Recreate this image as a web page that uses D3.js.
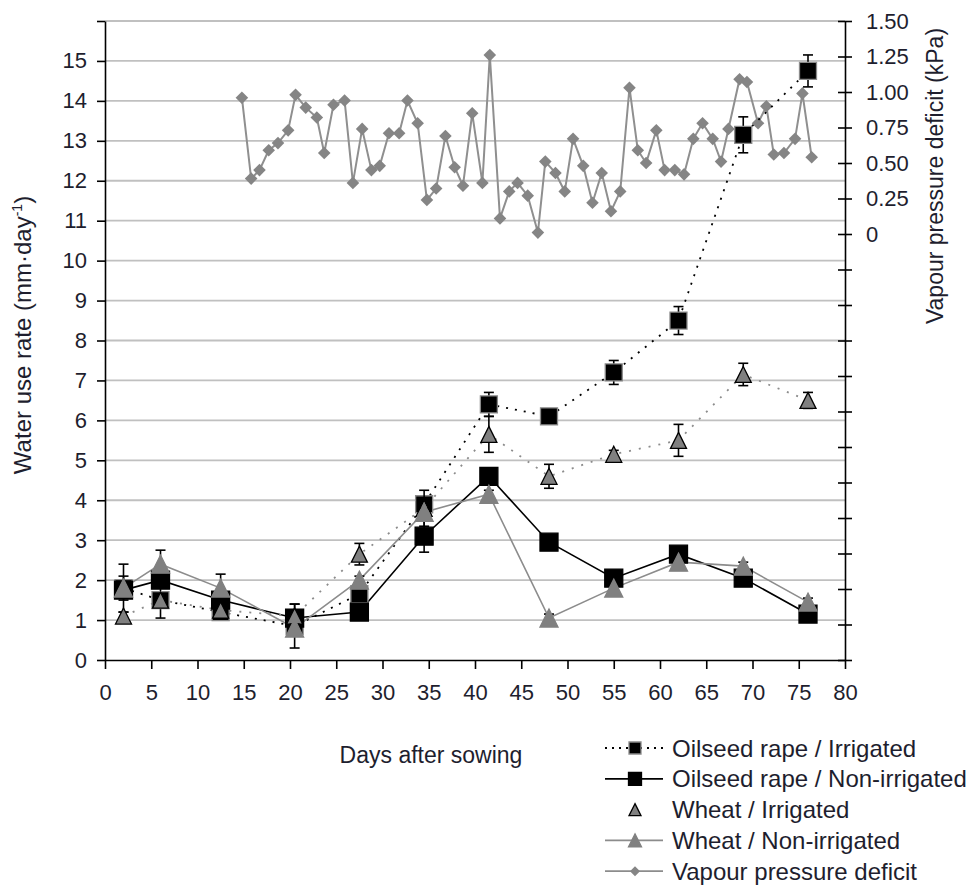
<!DOCTYPE html>
<html>
<head>
<meta charset="utf-8">
<script src="https://cdn.jsdelivr.net/npm/d3@7"></script>
<style>
  body { margin: 0; background: #fff; }
  text { font-family: "Liberation Sans", Arial, sans-serif; fill: #1e1e2e; }
</style>
</head>
<body>
<svg id="chart" width="972" height="888"></svg>
<script>
// sampling days (days after sowing) for the crop water use measurements
var days = [2, 6, 12.5, 20.5, 27.5, 34.5, 41.5, 48, 55, 62, 69, 76];

// water use rate (mm/day) and error bar half-widths
var osrIrr     = [1.8, 1.5, 1.2, 0.85, 1.65, 3.9, 6.4, 6.1, 7.2, 8.5, 13.15, 14.75];
var osrIrrErr  = [0.6, 0.45, 0.15, 0.55, 0.15, 0.2, 0.3, 0.1, 0.3, 0.35, 0.45, 0.4];
var osrNon     = [1.75, 2.0, 1.5, 1.05, 1.2, 3.1, 4.6, 2.95, 2.05, 2.65, 2.05, 1.15];
var osrNonErr  = [0.1, 0.1, 0.1, 0.1, 0.1, 0.4, 0.1, 0.1, 0.1, 0.1, 0.1, 0.1];
var wheatIrr    = [1.1, 1.5, 1.25, 1.1, 2.65, 3.8, 5.65, 4.6, 5.15, 5.5, 7.15, 6.5];
var wheatIrrErr = [0.1, 0.1, 0.1, 0.3, 0.27, 0.45, 0.45, 0.3, 0.1, 0.4, 0.28, 0.2];
var wheatNon    = [1.8, 2.4, 1.8, 0.8, 2.0, 3.7, 4.15, 1.05, 1.8, 2.45, 2.35, 1.45];
var wheatNonErr = [0.3, 0.35, 0.35, 0.1, 0.1, 0.1, 0.1, 0.1, 0.1, 0.1, 0.1, 0.1];

// daily vapour pressure deficit (kPa), right axis
var vpdDays = [14.8, 15.8, 16.7, 17.7, 18.7, 19.8, 20.6, 21.7, 22.9, 23.7, 24.7, 25.9, 26.8,
  27.8, 28.8, 29.7, 30.7, 31.8, 32.7, 33.8, 34.8, 35.8, 36.8, 37.8, 38.7, 39.7, 40.8, 41.6,
  42.7, 43.7, 44.6, 45.7, 46.8, 47.6, 48.7, 49.7, 50.6, 51.7, 52.7, 53.7, 54.7, 55.7, 56.7,
  57.6, 58.5, 59.6, 60.5, 61.6, 62.6, 63.6, 64.6, 65.7, 66.6, 67.4, 68.6, 69.4, 70.6, 71.5,
  72.3, 73.4, 74.6, 75.4, 76.4];
var vpd = [0.96, 0.39, 0.45, 0.59, 0.64, 0.73, 0.98, 0.89, 0.82, 0.57, 0.91, 0.94, 0.36,
  0.74, 0.45, 0.48, 0.71, 0.71, 0.94, 0.78, 0.24, 0.32, 0.69, 0.47, 0.34, 0.85, 0.36, 1.26,
  0.11, 0.30, 0.36, 0.27, 0.01, 0.51, 0.43, 0.30, 0.67, 0.48, 0.22, 0.43, 0.16, 0.30, 1.03,
  0.59, 0.50, 0.73, 0.45, 0.45, 0.42, 0.67, 0.78, 0.67, 0.51, 0.74, 1.09, 1.07, 0.78, 0.90,
  0.56, 0.57, 0.67, 0.99, 0.54];

// axis ticks
var xTicks  = d3.range(0, 81, 5);
var yTicks  = d3.range(0, 17);          // 16 is the unlabelled top
var y2Ticks = d3.range(0, 19).map(function(i){ return -3 + i * 0.25; });

var svg = d3.select("#chart");

var x  = d3.scaleLinear().domain([0, 80]).range([105, 845]);
var y  = d3.scaleLinear().domain([0, 16]).range([660, 21]);
var y2 = d3.scaleLinear().domain([-3, 1.5]).range([660, 21]);

//gridlines
svg.append("g").selectAll("line")
  .data(yTicks.filter(function(d){ return d > 0; }))
  .enter().append("line")
  .attr("x1", x(0)).attr("x2", x(80))
  .attr("y1", function(d){ return y(d); }).attr("y2", function(d){ return y(d); })
  .attr("stroke", "#c0c0c0").attr("stroke-width", 1.8);

//axes
var fontSize = "22px";
var gx = svg.append("g").attr("transform", "translate(0," + y(0) + ")")
  .call(d3.axisBottom(x).tickValues(xTicks).tickSize(9).tickPadding(15).tickSizeOuter(0));
var gy = svg.append("g").attr("transform", "translate(" + x(0) + ",0)")
  .call(d3.axisLeft(y).tickValues(yTicks).tickSize(8).tickPadding(10).tickSizeOuter(0)
    .tickFormat(function(d){ return d < 16 ? d : ""; }));
var gy2 = svg.append("g").attr("transform", "translate(" + x(80) + ",0)")
  .call(d3.axisRight(y2).tickValues(y2Ticks).tickSize(7).tickPadding(14).tickSizeOuter(0)
    .tickFormat(function(d){
      if (d < -0.001) return "";
      return Math.abs(d) < 0.001 ? "0" : d3.format(".2f")(d);
    }));
gy2.selectAll(".tick line").attr("x1", -7);   // right axis ticks cross the line

[gx, gy, gy2].forEach(function(g){
  g.attr("font-size", null).attr("font-family", null);
  g.selectAll(".domain").attr("stroke", "#000").attr("stroke-width", 1.6);
  g.selectAll(".tick line").attr("stroke", "#000").attr("stroke-width", 1.6);
  g.selectAll("text").style("font-size", fontSize).attr("fill", "#1e1e2e");
});

//axis titles
svg.append("text")
  .attr("x", 431).attr("y", 763)
  .attr("text-anchor", "middle").style("font-size", "23px")
  .text("Days after sowing");

var yTitle = svg.append("text")
  .attr("transform", "translate(31,335) rotate(-90)")
  .attr("text-anchor", "middle").style("font-size", "24px");
yTitle.append("tspan").text("Water use rate (mm·day");
yTitle.append("tspan").attr("dy", -9).style("font-size", "14px").text("-1");
yTitle.append("tspan").attr("dy", 9).text(")");

svg.append("text")
  .attr("transform", "translate(943,176) rotate(-90)")
  .attr("text-anchor", "middle").style("font-size", "23px")
  .text("Vapour pressure deficit (kPa)");

//marker shapes
function trianglePath(w, h) {
  return "M0," + (-h / 2) + "L" + (w / 2) + "," + (h / 2) + "L" + (-w / 2) + "," + (h / 2) + "Z";
}
function diamondPath(r) {
  return "M0," + (-r) + "L" + r + ",0L0," + r + "L" + (-r) + ",0Z";
}

//VPD series (behind the crop series)
var vpdData = vpdDays.map(function(d, i){ return [d, vpd[i]]; });
svg.append("path")
  .datum(vpdData)
  .attr("fill", "none").attr("stroke", "#8f8f8f").attr("stroke-width", 2)
  .attr("d", d3.line().x(function(d){ return x(d[0]); }).y(function(d){ return y2(d[1]); }));
svg.append("g").selectAll("path")
  .data(vpdData).enter().append("path")
  .attr("transform", function(d){ return "translate(" + x(d[0]) + "," + y2(d[1]) + ")"; })
  .attr("d", diamondPath(6.3))
  .attr("fill", "#858585");

//crop series
var series = [
  {name: "Oilseed rape / Irrigated", vals: osrIrr, err: osrIrrErr, line: "#000", width: 1.8,
   dash: "2,7", shape: "square", size: 17, fill: "#000", stroke: "#8a8a8a"},
  {name: "Oilseed rape / Non-irrigated", vals: osrNon, err: osrNonErr, line: "#000", width: 1.6,
   dash: null, shape: "square", size: 18, fill: "#000", stroke: "#000"},
  {name: "Wheat / Irrigated", vals: wheatIrr, err: wheatIrrErr, line: "#8c8c8c", width: 1.8,
   dash: "2,8", shape: "triangle", size: 16, fill: "#808080", stroke: "#000"},
  {name: "Wheat / Non-irrigated", vals: wheatNon, err: wheatNonErr, line: "#8c8c8c", width: 1.6,
   dash: null, shape: "triangle", size: 18, fill: "#808080", stroke: "#808080"}
];

var line = d3.line()
  .x(function(d){ return x(d[0]); })
  .y(function(d){ return y(d[1]); });

series.forEach(function(s){
  var pts = days.map(function(d, i){ return [d, s.vals[i], s.err[i]]; });
  svg.append("path")
    .datum(pts)
    .attr("fill", "none").attr("stroke", s.line).attr("stroke-width", s.width)
    .attr("stroke-dasharray", s.dash)
    .attr("d", line);
});

series.forEach(function(s){
  var pts = days.map(function(d, i){ return [d, s.vals[i], s.err[i]]; });
  var eb = svg.append("g").selectAll("g").data(pts).enter().append("g");
  eb.append("line")
    .attr("x1", function(d){ return x(d[0]); }).attr("x2", function(d){ return x(d[0]); })
    .attr("y1", function(d){ return y(d[1] - d[2]); }).attr("y2", function(d){ return y(d[1] + d[2]); });
  eb.append("line")
    .attr("x1", function(d){ return x(d[0]) - 5; }).attr("x2", function(d){ return x(d[0]) + 5; })
    .attr("y1", function(d){ return y(d[1] + d[2]); }).attr("y2", function(d){ return y(d[1] + d[2]); });
  eb.append("line")
    .attr("x1", function(d){ return x(d[0]) - 5; }).attr("x2", function(d){ return x(d[0]) + 5; })
    .attr("y1", function(d){ return y(d[1] - d[2]); }).attr("y2", function(d){ return y(d[1] - d[2]); });
  eb.selectAll("line").attr("stroke", "#000").attr("stroke-width", 1.6);

  var m = svg.append("g").selectAll("path").data(pts).enter().append("path")
    .attr("transform", function(d){ return "translate(" + x(d[0]) + "," + y(d[1]) + ")"; })
    .attr("fill", s.fill).attr("stroke", s.stroke).attr("stroke-width", 1.3);
  if (s.shape == "square") {
    var h = s.size / 2;
    m.attr("d", "M" + (-h) + "," + (-h) + "h" + s.size + "v" + s.size + "h" + (-s.size) + "Z");
  } else {
    m.attr("d", trianglePath(s.size, s.size));
  }
});

//legend
var legendItems = [
  {label: series[0].name, line: "#000", dash: "2,5", shape: "square", size: 12, fill: "#000", stroke: "#8a8a8a"},
  {label: series[1].name, line: "#000", dash: null, shape: "square", size: 13, fill: "#000", stroke: "#000"},
  {label: series[2].name, line: null, dash: null, shape: "triangle", size: 12, fill: "#808080", stroke: "#000"},
  {label: series[3].name, line: "#8c8c8c", dash: null, shape: "triangle", size: 13, fill: "#808080", stroke: "#808080"},
  {label: "Vapour pressure deficit", line: "#8c8c8c", dash: null, shape: "diamond", size: 5, fill: "#858585", stroke: "none"}
];

var legend = svg.append("g").attr("transform", "translate(605,748)");
var rows = legend.selectAll("g").data(legendItems).enter().append("g")
  .attr("transform", function(d, i){ return "translate(0," + (i * 30.8) + ")"; });

rows.filter(function(d){ return d.line; }).append("line")
  .attr("x1", 0).attr("x2", 58).attr("y1", 0).attr("y2", 0)
  .attr("stroke", function(d){ return d.line; }).attr("stroke-width", 1.8)
  .attr("stroke-dasharray", function(d){ return d.dash; });

rows.append("path")
  .attr("transform", "translate(30,0)")
  .attr("d", function(d){
    if (d.shape == "square") {
      var h = d.size / 2;
      return "M" + (-h) + "," + (-h) + "h" + d.size + "v" + d.size + "h" + (-d.size) + "Z";
    }
    if (d.shape == "triangle") return trianglePath(d.size, d.size);
    return diamondPath(d.size);
  })
  .attr("fill", function(d){ return d.fill; })
  .attr("stroke", function(d){ return d.stroke; }).attr("stroke-width", 1.3);

rows.append("text")
  .attr("x", 67).attr("y", 0).attr("dy", "0.36em")
  .style("font-size", "24px")
  .text(function(d){ return d.label; });
</script>
</body>
</html>
